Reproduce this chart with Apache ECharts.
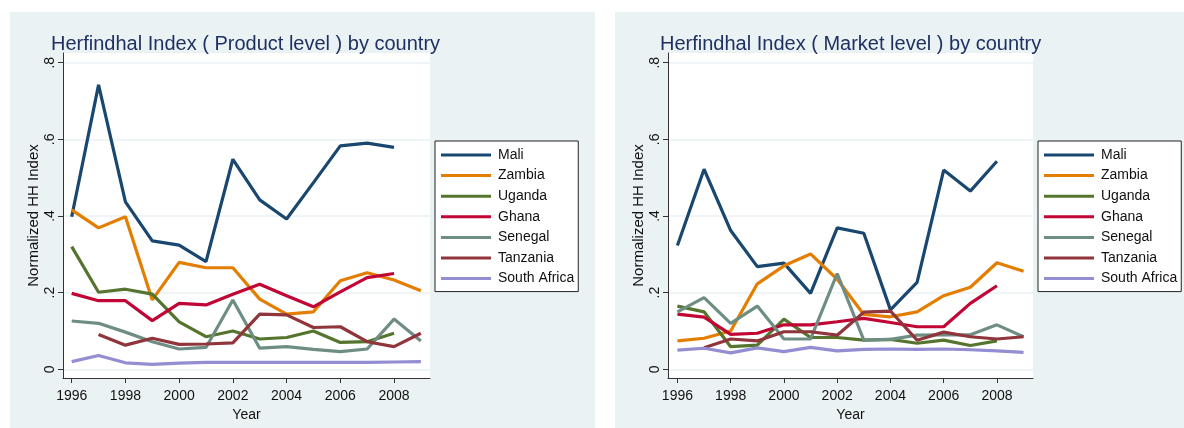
<!DOCTYPE html>
<html>
<head>
<meta charset="utf-8">
<script src="https://cdn.jsdelivr.net/npm/echarts@6/dist/echarts.min.js"></script>
<style>
  html, body { margin: 0; padding: 0; background: #fff; }
  #chart { width: 1184px; height: 428px; }
</style>
</head>
<body>
<div id="chart"></div>
<script>
const years = [1996, 1997, 1998, 1999, 2000, 2001, 2002, 2003, 2004, 2005, 2006, 2007, 2008, 2009];
const yearTicks = [1996, 1998, 2000, 2002, 2004, 2006, 2008];
const valueTicks = [0, 0.2, 0.4, 0.6, 0.8];
const countries = ["Mali", "Zambia", "Uganda", "Ghana", "Senegal", "Tanzania", "South Africa"];
const colors = ["#1a476f", "#e37e00", "#55752f", "#c10534", "#6e8e84", "#90353b", "#938dd2"];

// product level
const productMali = [0.398, 0.742, 0.437, 0.335, 0.324, 0.281, 0.548, 0.442, 0.392, 0.487, 0.583, 0.590, 0.579, null];
const productZambia = [0.416, 0.369, 0.398, 0.181, 0.279, 0.265, 0.265, 0.183, 0.144, 0.150, 0.231, 0.252, 0.233, 0.205];
const productUganda = [0.320, 0.201, 0.209, 0.196, 0.124, 0.085, 0.100, 0.079, 0.083, 0.100, 0.070, 0.072, 0.094, null];
const productGhana = [0.198, 0.179, 0.179, 0.127, 0.172, 0.168, 0.196, 0.222, 0.192, 0.163, 0.202, 0.239, 0.250, null];
const productSenegal = [0.126, 0.120, 0.097, 0.072, 0.053, 0.057, 0.181, 0.055, 0.059, 0.052, 0.046, 0.053, 0.131, 0.074];
const productTanzania = [null, 0.091, 0.063, 0.081, 0.065, 0.066, 0.069, 0.144, 0.142, 0.109, 0.111, 0.072, 0.059, 0.094];
const productSouthAfrica = [0.020, 0.036, 0.017, 0.013, 0.016, 0.018, 0.018, 0.018, 0.018, 0.018, 0.018, 0.018, 0.019, 0.020];

// market level
const marketMali = [0.323, 0.522, 0.362, 0.268, 0.277, 0.198, 0.369, 0.355, 0.155, 0.227, 0.520, 0.465, 0.543, null];
const marketZambia = [0.074, 0.081, 0.100, 0.223, 0.270, 0.301, 0.235, 0.143, 0.137, 0.150, 0.192, 0.214, 0.278, 0.256];
const marketUganda = [0.165, 0.150, 0.059, 0.063, 0.131, 0.083, 0.083, 0.076, 0.078, 0.068, 0.076, 0.062, 0.074, null];
const marketGhana = [0.144, 0.136, 0.091, 0.094, 0.116, 0.116, 0.124, 0.133, 0.122, 0.111, 0.111, 0.172, 0.218, null];
const marketSenegal = [0.150, 0.187, 0.120, 0.165, 0.079, 0.079, 0.250, 0.076, 0.078, 0.089, 0.090, 0.090, 0.116, 0.085];
const marketTanzania = [null, 0.056, 0.079, 0.074, 0.098, 0.098, 0.089, 0.149, 0.152, 0.076, 0.097, 0.085, 0.079, 0.085];
const marketSouthAfrica = [0.050, 0.055, 0.043, 0.056, 0.046, 0.057, 0.048, 0.052, 0.053, 0.052, 0.053, 0.051, 0.048, 0.044];

const productData = [productMali, productZambia, productUganda, productGhana, productSenegal, productTanzania, productSouthAfrica];
const marketData = [marketMali, marketZambia, marketUganda, marketGhana, marketSenegal, marketTanzania, marketSouthAfrica];

const FONT = "Liberation Sans, Arial, sans-serif";
const PANEL_BG = "#eaf2f3";

function toPairs(values) {
  return years.map((y, i) => [y, values[i]]).filter((p) => p[1] != null);
}

function xAxisFor(gridIndex, min, max) {
  return {
    type: "value",
    gridIndex,
    min,
    max,
    name: "Year",
    nameLocation: "middle",
    nameGap: 25,
    nameTextStyle: { fontFamily: FONT, fontSize: 14, color: "#111" },
    axisLine: { show: true, onZero: false, lineStyle: { color: "#333", width: 1 } },
    axisTick: { show: true, length: 5, customValues: yearTicks, lineStyle: { color: "#333" } },
    axisLabel: {
      customValues: yearTicks,
      fontFamily: FONT,
      fontSize: 14,
      color: "#111",
      margin: 11,
      formatter: (v) => String(v),
    },
    splitLine: { show: false },
  };
}

function yAxisFor(gridIndex) {
  return {
    type: "value",
    gridIndex,
    min: -0.0227,
    max: 0.8253,
    name: "Normalized HH Index",
    nameLocation: "middle",
    nameRotate: 90,
    nameGap: 22,
    nameTextStyle: { fontFamily: FONT, fontSize: 15, color: "#111" },
    axisLine: { show: true, onZero: false, lineStyle: { color: "#333", width: 1 } },
    axisTick: { show: true, length: 5, customValues: valueTicks, lineStyle: { color: "#333" } },
    axisLabel: {
      customValues: valueTicks,
      rotate: 90,
      fontFamily: FONT,
      fontSize: 14,
      color: "#111",
      margin: 6,
      formatter: (v) => (v === 0 ? "0" : String(Math.round(v * 10) / 10).replace(/^0/, "")),
    },
    splitLine: { show: true, lineStyle: { color: PANEL_BG, width: 1.5 } },
  };
}

function seriesFor(data, index) {
  return countries.map((name, i) => ({
    name,
    type: "line",
    xAxisIndex: index,
    yAxisIndex: index,
    symbol: "none",
    color: colors[i],
    lineStyle: { width: 3.2, color: colors[i] },
    data: toPairs(data[i]),
  }));
}

function legendFor(left) {
  return {
    orient: "vertical",
    left,
    top: 141,
    data: countries,
    icon: "rect",
    itemWidth: 50,
    itemHeight: 3,
    itemGap: 6.6,
    padding: [7, 4, 6, 6],
    backgroundColor: "#fff",
    borderColor: "#222",
    borderWidth: 1,
    borderRadius: 0,
    textStyle: { fontFamily: FONT, fontSize: 14, color: "#111", padding: [0, 0, 0, 2] },
  };
}

const chart = echarts.init(document.getElementById("chart"));

chart.setOption({
  animation: false,
  backgroundColor: "#fff",
  graphic: [
    { type: "rect", z: -10, shape: { x: 10, y: 12, width: 585, height: 416 }, style: { fill: PANEL_BG } },
    { type: "rect", z: -10, shape: { x: 615, y: 12, width: 569, height: 416 }, style: { fill: PANEL_BG } },
  ],
  title: [
    {
      text: "Herfindhal Index ( Product level ) by country",
      left: 46,
      top: 29,
      textStyle: { fontFamily: FONT, fontSize: 20, fontWeight: "normal", color: "#1e3162" },
    },
    {
      text: "Herfindhal Index ( Market level ) by country",
      left: 655,
      top: 29,
      textStyle: { fontFamily: FONT, fontSize: 20, fontWeight: "normal", color: "#1e3162" },
    },
  ],
  legend: [legendFor(435), legendFor(1038)],
  grid: [
    { left: 63, top: 53, width: 367, height: 325, show: true, backgroundColor: "#fff", borderWidth: 0 },
    { left: 668, top: 53, width: 365, height: 325, show: true, backgroundColor: "#fff", borderWidth: 0 },
  ],
  xAxis: [xAxisFor(0, 1995.676, 2009.34), xAxisFor(1, 1995.646, 2009.354)],
  yAxis: [yAxisFor(0), yAxisFor(1)],
  series: [...seriesFor(productData, 0), ...seriesFor(marketData, 1)],
});
</script>
</body>
</html>
